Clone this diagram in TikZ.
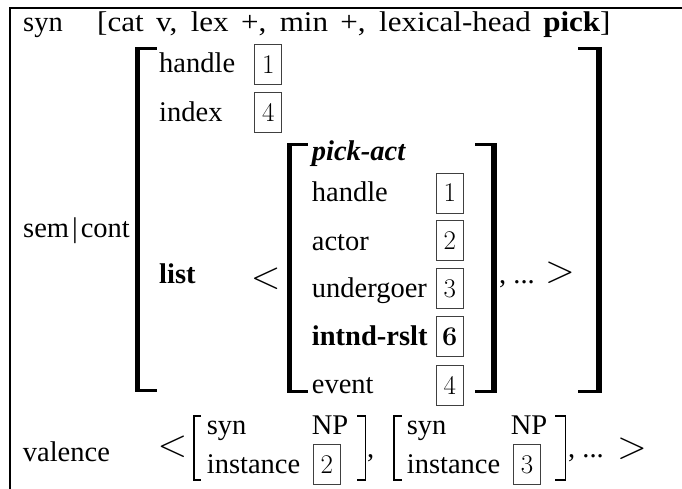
\documentclass[tikz,border=0pt]{standalone}
\usepackage{graphicx}
\usepackage{fontspec}
\newfontfamily\lsf{Liberation Serif}
\newcommand{\bigrel}[1]{\scalebox{1.567}{$#1$}}
\begin{document}
\begin{tikzpicture}[x=1pt,y=-1pt]
\tikzset{
 lbl/.style={anchor=base west, inner sep=0pt, font=\lsf\fontsize{28.5}{32}\selectfont},
 numbox/.style={draw=black!75, line width=0.9pt, minimum width=27pt, minimum height=40pt, inner sep=0pt, font=\fontsize{27}{30}\selectfont},
 angl/.style={inner sep=0pt, font=\fontsize{24.88}{28}\selectfont},
 frame/.style={line width=2.2pt},
 thinbr/.style={line width=1.3pt},
}
\useasboundingbox (0,0) rectangle (682,489);
% frame
\draw[frame] (682,8) -- (10,8) -- (10,489);
% top row
\node[lbl] (syn) at (23,32) {syn};
\node[lbl] (synval) at (97,32) {\scalebox{1.09}[1]{\makebox[471pt][s]{[cat v, lex +, min +, lexical-head \textbf{pick}]}}};
% sem|cont
\node[lbl] (semcont) at (23,237) {sem\kern3pt|\kern3pt cont};
% outer brackets
\fill (135,47) rectangle (139.5,392);
\fill (135,47) rectangle (157,50);
\fill (135,389) rectangle (157,392);
\fill (596,47) rectangle (601.5,393);
\fill (578,47) rectangle (601.5,50);
\fill (578,390) rectangle (601.5,393);
\node[lbl] (handle) at (159,73) {handle};
\node[numbox] (b1) at (268.3,64.7) {1};
\node[lbl] (index) at (159,122) {index};
\node[numbox] (b4) at (268.3,112.2) {4};
\node[lbl] (list) at (159,283) {\textbf{list}};
\node[angl] (lt) at (265.8,279) {\bigrel{<}};
% inner brackets
\fill (287,143) rectangle (292,393);
\fill (287,143) rectangle (308,146);
\fill (287,390) rectangle (308,393);
\fill (491,143) rectangle (496.5,393);
\fill (475,143) rectangle (496.5,146);
\fill (475,390) rectangle (496.5,393);
\node[lbl] (pickact) at (311.7,161) {\textbf{\textit{pick-act}}};
\node[lbl] (ihandle) at (311.7,201.7) {handle};
\node[numbox] (ib1) at (449.7,193) {1};
\node[lbl] (actor) at (311.7,250) {actor};
\node[numbox] (ib2) at (449.7,240.5) {2};
\node[lbl] (undergoer) at (311.7,297) {undergoer};
\node[numbox] (ib3) at (449.7,288.3) {3};
\node[lbl] (intnd) at (311.7,345) {\textbf{intnd-rslt}};
\node[numbox] (ib6) at (449.7,336.7) {\textbf{6}};
\node[lbl] (event) at (311.7,393.3) {event};
\node[numbox] (ib4) at (449.7,385) {4};
\node[lbl] (dots1) at (499,283) {, ...};
\node[angl] (gt) at (560,273) {\bigrel{>}};
% valence
\node[lbl] (valence) at (22.7,461.7) {valence};
\node[angl] (vlt) at (172.5,447) {\bigrel{<}};
\draw[thinbr] (201,416) -- (194,416) -- (194,480) -- (201,480);
\node[lbl] (vsyn1) at (206.7,434) {syn};
\node[lbl] (vinst1) at (206.7,473.3) {instance};
\node[lbl] (np1) at (311.7,434) {NP};
\node[numbox] (vb2) at (326.7,464.2) {2};
\draw[thinbr] (357,416) -- (365.5,416) -- (365.5,480) -- (357,480);
\node[lbl] (comma1) at (367,457) {,};
\draw[thinbr] (401.7,416) -- (394,416) -- (394,480) -- (401.7,480);
\node[lbl] (vsyn2) at (406.7,434) {syn};
\node[lbl] (vinst2) at (406.7,473.3) {instance};
\node[lbl] (np2) at (510.7,434) {NP};
\node[numbox] (vb3) at (527,464.6) {3};
\draw[thinbr] (555,416) -- (565.5,416) -- (565.5,480) -- (555,480);
\node[lbl] (dots2) at (568,457) {, ...};
\node[angl] (vgt) at (632,449) {\bigrel{>}};
\end{tikzpicture}
\end{document}
